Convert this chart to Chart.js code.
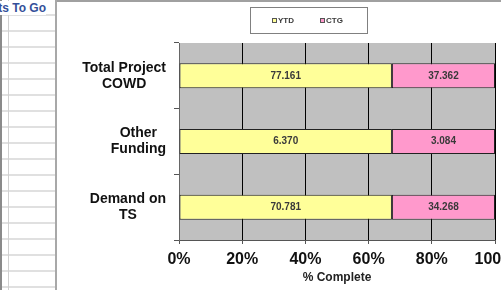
<!DOCTYPE html>
<html>
<head>
<meta charset="utf-8">
<script src="https://cdn.jsdelivr.net/npm/chart.js@4"></script>
<style>
  html, body { margin: 0; padding: 0; width: 501px; height: 290px; overflow: hidden; background: #fff; }
  #sheet {
    position: absolute; left: 0; top: 0; width: 55px; height: 290px; overflow: hidden;
    background:
      linear-gradient(to right, #8a8a8a 0, #8a8a8a 2px, transparent 2px, transparent 8px, #d0d0d0 8px, #d0d0d0 9px, transparent 9px),
      repeating-linear-gradient(to bottom, transparent 0, transparent 14px, #e0e0e0 14px, #e0e0e0 16px);
    background-color: #fff;
  }
  #sheet span {
    position: absolute; right: 9px; top: 1px; white-space: nowrap;
    font: bold 12px "Liberation Sans", Arial, sans-serif; color: #34509a; background: #fff;
  }
  #edge { position: absolute; left: 55px; top: 0; width: 2px; height: 290px; background: #a8a8a8; }
  #topline { position: absolute; left: 57px; top: 0; width: 444px; height: 2px; background: #a0a0a0; }
  #wrap { position: absolute; left: 57px; top: 0; width: 444px; height: 290px; }
</style>
</head>
<body>
<div id="sheet"><span>Costs To Go</span></div>
<div id="edge"></div>
<div id="wrap"><canvas id="chart"></canvas></div>
<div id="topline"></div>
<script>
// chart data
const categories = [['Total Project', 'COWD'], ['Other', 'Funding'], ['Demand on', 'TS']];
const ytdValues = [77.161, 6.370, 70.781];
const ctgValues = [37.362, 3.084, 34.268];
const xTicks = ['0%', '20%', '40%', '60%', '80%', '100%'];

const ytdPct = ytdValues.map((v, i) => v / (v + ctgValues[i]) * 100);
const ctgPct = ctgValues.map((v, i) => v / (ytdValues[i] + v) * 100);

const font = '"Liberation Sans", Arial, sans-serif';

// grey plot background
const plotBg = {
    id: 'plotBg',
    beforeDraw(chart) {
        const { ctx, chartArea: a } = chart;
        ctx.save();
        ctx.fillStyle = '#c0c0c0';
        ctx.fillRect(a.left, a.top, a.right - a.left, a.bottom - a.top);
        ctx.restore();
    }
};

// category labels, lines centred, block right aligned
const catLabels = {
    id: 'catLabels',
    afterDraw(chart) {
        const { ctx } = chart;
        const y = chart.scales.y;
        ctx.save();
        ctx.font = 'bold 14px ' + font;
        ctx.fillStyle = '#111';
        ctx.textAlign = 'center';
        ctx.textBaseline = 'middle';
        categories.forEach((lines, i) => {
            const w = Math.max(...lines.map(l => ctx.measureText(l).width));
            const cx = y.right - 13 - w / 2;
            const cy = y.getPixelForTick(i);
            const lh = 16;
            lines.forEach((l, j) => {
                ctx.fillText(l, cx, cy + (j - (lines.length - 1) / 2) * lh);
            });
        });
        ctx.restore();
    }
};

// value labels inside the bars
const valueLabels = {
    id: 'valueLabels',
    afterDatasetsDraw(chart) {
        const { ctx } = chart;
        const raw = [ytdValues, ctgValues];
        ctx.save();
        ctx.font = 'bold 10px ' + font;
        ctx.fillStyle = '#3a3a3a';
        ctx.textAlign = 'center';
        ctx.textBaseline = 'middle';
        chart.data.datasets.forEach((ds, d) => {
            chart.getDatasetMeta(d).data.forEach((bar, i) => {
                const p = bar.getProps(['x', 'y', 'base'], true);
                ctx.fillText(raw[d][i].toFixed(3), (p.x + p.base) / 2, p.y);
            });
        });
        ctx.restore();
    }
};

// boxed legend like Excel
const boxLegend = {
    id: 'boxLegend',
    afterDraw(chart) {
        const { ctx } = chart;
        ctx.save();
        ctx.strokeStyle = '#808080';
        ctx.lineWidth = 1;
        ctx.strokeRect(193.5, 7.5, 117, 26);
        ctx.font = 'bold 8px ' + font;
        ctx.textBaseline = 'middle';
        const xs = [215, 263];
        chart.data.datasets.forEach((ds, d) => {
            ctx.fillStyle = ds.backgroundColor;
            ctx.fillRect(xs[d], 18, 5, 5);
            ctx.strokeStyle = '#555';
            ctx.strokeRect(xs[d] + 0.5, 18.5, 4, 4);
            ctx.fillStyle = '#3a3a3a';
            ctx.fillText(ds.label, xs[d] + 6, 21);
        });
        ctx.restore();
    }
};

new Chart(document.getElementById('chart'), {
    type: 'bar',
    data: {
        labels: categories.map(c => c.join(' ')),
        datasets: [
            { label: 'YTD', data: ytdPct, backgroundColor: '#ffff99', borderColor: '#222', borderWidth: 1, borderSkipped: false },
            { label: 'CTG', data: ctgPct, backgroundColor: '#ff99cc', borderColor: '#222', borderWidth: 1, borderSkipped: false }
        ]
    },
    options: {
        indexAxis: 'y',
        responsive: true,
        maintainAspectRatio: false,
        animation: false,
        layout: { padding: { top: 43, right: 6, left: 0, bottom: 0 } },
        datasets: { bar: { barPercentage: 0.38, categoryPercentage: 1 } },
        plugins: { legend: { display: false }, tooltip: { enabled: false } },
        scales: {
            x: {
                stacked: true,
                min: 0,
                max: 100,
                ticks: {
                    stepSize: 20,
                    color: '#111',
                    font: { family: font, size: 16, weight: 'bold' },
                    padding: 6,
                    maxRotation: 0,
                    callback: (v, i) => xTicks[i]
                },
                grid: { color: '#000', lineWidth: 1, tickColor: '#555', tickLength: 4, drawOnChartArea: true },
                border: { color: '#555', width: 1 },
                title: {
                    display: true,
                    text: '% Complete',
                    color: '#222',
                    font: { family: font, size: 12, weight: 'bold' },
                    padding: { top: 2, bottom: 5 }
                },
                afterFit(scale) {
                    scale.height = 50;
                    scale.paddingLeft = 0;
                    scale.paddingRight = 0;
                }
            },
            y: {
                stacked: true,
                ticks: { display: false },
                grid: { drawOnChartArea: false, tickLength: 5, tickColor: '#555' },
                border: { color: '#666', width: 1 },
                afterFit(scale) {
                    scale.width = 122;
                }
            }
        }
    },
    plugins: [plotBg, catLabels, valueLabels, boxLegend]
});
</script>
</body>
</html>
